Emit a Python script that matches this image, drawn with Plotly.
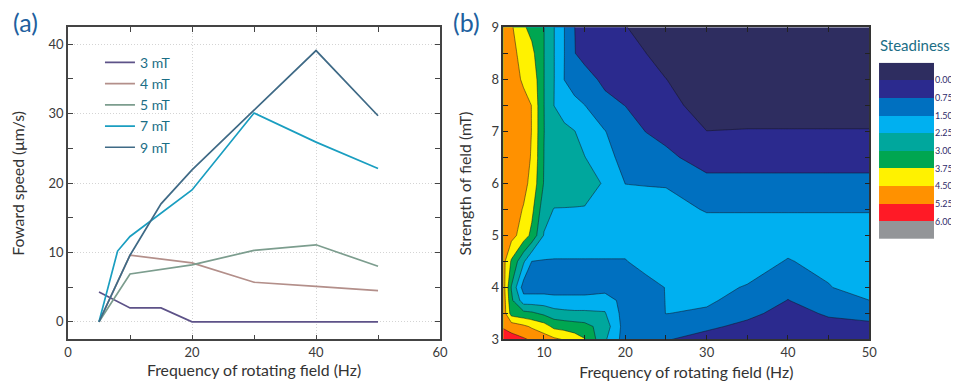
import plotly.graph_objects as go

# ---------------- Panel (a) data ----------------
freq_3mT = [5, 10, 15, 20, 30, 40, 50]
speed_3mT = [4.3, 2.0, 2.0, 0.0, 0.0, 0.0, 0.0]
freq_4mT = [5, 10, 20, 30, 40, 50]
speed_4mT = [0.0, 9.6, 8.5, 5.7, 5.1, 4.5]
freq_5mT = [5, 10, 20, 30, 40, 50]
speed_5mT = [0.0, 6.9, 8.2, 10.3, 11.1, 8.0]
freq_7mT = [5, 8, 10, 15, 20, 30, 40, 50]
speed_7mT = [0.0, 10.2, 12.3, 15.6, 19.0, 30.1, 25.9, 22.1]
freq_9mT = [5, 10, 15, 20, 30, 40, 50]
speed_9mT = [0.0, 9.6, 17.0, 21.9, 30.5, 39.1, 29.7]
series_names = ["3 mT", "4 mT", "5 mT", "7 mT", "9 mT"]
series_colors = ["#5d5288", "#b38f8a", "#7c9d8e", "#1a9ec0", "#3f6a86"]

# ---------------- Panel (b) data ----------------
grid_freq = [5, 6, 7.5, 8.5, 10, 11.25, 12.5, 13.75, 15, 17.5, 20, 22.5, 25, 30, 35, 40, 45, 50]
grid_field = [3, 3.25, 3.5, 3.75, 4, 4.5, 5, 5.5, 6, 6.5, 7, 7.5, 8, 8.5, 9]
steadiness = [
    [6.5, 6.3, 6.1, 5.9, 5.6, 5.4, 5.2, 4.9, 4.55, 3.1, 1.9, 1.7, 1.55, 1.2, 1.0, 0.9, 1.0, 1.0],
    [5.9, 5.7, 5.4, 5.15, 4.85, 4.3, 4.2, 4.1, 4.0, 3.4, 1.9, 1.85, 1.7, 1.65, 1.3, 1.0, 1.25, 1.3],
    [5.7, 4.2, 4.0, 3.9, 3.6, 3.3, 3.2, 3.15, 3.15, 3.05, 1.9, 1.9, 2.26, 2.15, 1.7, 1.2, 1.6, 1.8],
    [5.7, 3.9, 2.6, 2.6, 2.6, 2.5, 2.5, 2.5, 2.5, 2.7, 1.9, 1.9, 2.27, 2.35, 2.0, 1.48, 1.95, 2.24],
    [5.6, 3.7, 1.9, 1.9, 1.9, 1.9, 1.9, 1.9, 1.9, 1.9, 1.9, 1.9, 2.28, 2.45, 2.2, 1.7, 2.2, 2.7],
    [5.5, 4.4, 3.1, 2.24, 2.2, 2.2, 2.2, 2.2, 2.2, 2.2, 2.2, 2.6, 2.6, 2.5, 2.6, 2.2, 2.5, 2.55],
    [5.7, 5.5, 4.9, 4.3, 2.95, 2.7, 2.7, 2.7, 2.7, 2.7, 2.7, 2.7, 2.7, 2.6, 2.6, 2.6, 2.6, 2.6],
    [5.75, 5.6, 5.2, 4.7, 3.3, 2.97, 2.97, 2.97, 2.97, 2.9, 2.6, 2.5, 2.5, 2.2, 2.2, 2.2, 2.2, 2.2],
    [5.8, 5.7, 5.45, 5.05, 3.7, 3.5, 3.4, 3.3, 3.2, 2.95, 2.24, 2.22, 2.2, 1.7, 1.7, 1.7, 1.7, 1.7],
    [5.8, 5.75, 5.5, 5.2, 3.74, 3.55, 3.4, 3.2, 3.02, 2.5, 2.0, 1.85, 1.65, 1.2, 1.2, 1.2, 1.2, 1.2],
    [5.8, 5.75, 5.5, 5.24, 3.76, 3.4, 3.2, 3.02, 2.7, 2.27, 1.85, 1.49, 1.3, 0.76, 0.8, 0.8, 0.8, 0.8],
    [5.8, 5.7, 5.45, 5.24, 3.76, 2.99, 2.6, 2.4, 2.26, 1.7, 1.49, 1.2, 1.1, 0.3, 0.3, 0.3, 0.3, 0.3],
    [5.75, 5.55, 5.15, 5.05, 3.76, 3.01, 2.24, 2.0, 1.75, 1.35, 1.1, 0.95, 0.76, 0.3, 0.3, 0.3, 0.3, 0.3],
    [5.7, 5.45, 5.0, 4.7, 3.76, 3.01, 2.26, 1.52, 1.3, 1.1, 0.95, 0.76, 0.45, 0.3, 0.3, 0.3, 0.3, 0.3],
    [5.6, 5.35, 4.6, 4.27, 3.76, 3.01, 2.26, 1.51, 1.2, 1.0, 0.78, 0.5, 0.3, 0.3, 0.3, 0.3, 0.3, 0.3],
]
level_labels = ["0.000", "0.750", "1.500", "2.250", "3.000", "3.750", "4.500", "5.250", "6.000"]
band_colors = ["#2e2d60", "#2b2a8e", "#0070c0", "#00b0f0", "#00a79d",
               "#00a651", "#fff200", "#ff9100", "#ff1a26", "#939598"]

FONT = "Lato"
TICKC = "#3a3a3a"

fig = go.Figure()

xs = [freq_3mT, freq_4mT, freq_5mT, freq_7mT, freq_9mT]
ys = [speed_3mT, speed_4mT, speed_5mT, speed_7mT, speed_9mT]
for name, col, xv, yv in zip(series_names, series_colors, xs, ys):
    fig.add_trace(go.Scatter(x=xv, y=yv, mode="lines", name=name,
                             line=dict(color=col, width=1.7),
                             xaxis="x", yaxis="y"))

cscale = [[i / 9, c] for i, c in enumerate(band_colors)]
fig.add_trace(go.Contour(
    x=grid_freq, y=grid_field, z=steadiness,
    xaxis="x2", yaxis="y2",
    colorscale=cscale, showscale=False, autocontour=False,
    contours=dict(start=0.75, end=6.75, size=0.75, coloring="fill"),
    line=dict(width=0.6, color="rgba(20,20,30,0.85)", smoothing=0),
    showlegend=False, hoverinfo="skip"))

# colour key (legend of the contour bands)
fig.add_trace(go.Heatmap(
    z=[[i] for i in range(10)], x=[0], y=list(range(10)),
    xaxis="x3", yaxis="y3", colorscale=cscale, zmin=0, zmax=9,
    showscale=False, showlegend=False, hoverinfo="skip"))

axis_common = dict(showline=True, linecolor="#444", linewidth=1.5, mirror="ticks",
                   ticks="inside", ticklen=5, tickcolor="#444", tickwidth=1.2,
                   zeroline=False, automargin=False,
                   tickfont=dict(family=FONT, size=13, color=TICKC))
dark_axis = {**axis_common, "linecolor": "#333", "tickcolor": "#222"}
TITLE_FONT = dict(family=FONT, size=15.8, color="#333")

# the page body adds an 8 px offset, so the figure is 951x377 and fills the 959x385 window
fig.update_layout(
    width=951, height=377,
    margin=dict(l=0, r=0, t=0, b=0),
    paper_bgcolor="white", plot_bgcolor="white",
    font=dict(family=FONT, color=TICKC),
    showlegend=True,
    legend=dict(x=0.0967, y=0.897, xanchor="left", yanchor="top",
                bgcolor="rgba(0,0,0,0)", font=dict(family=FONT, size=14, color="#1b6e86"),
                tracegroupgap=0, itemwidth=30),
    xaxis=dict(domain=[0.0631, 0.4543], anchor="y", range=[0, 60], tickvals=[0, 20, 40, 60],
               minor=dict(dtick=10, ticks="inside", ticklen=5, tickcolor="#444"),
               showgrid=True, gridcolor="#d4d4d4", griddash="1px,2px", gridwidth=1,
               title=dict(text="Frequency of rotating field (Hz)", standoff=6, font=TITLE_FONT),
               **axis_common),
    yaxis=dict(domain=[0.1207, 0.9488], anchor="x", range=[-2.55, 42.45],
               tickvals=[0, 10, 20, 30, 40],
               minor=dict(dtick=5, ticks="inside", ticklen=5, tickcolor="#444"),
               showgrid=True, gridcolor="#d4d4d4", griddash="1px,2px", gridwidth=1,
               title=dict(text="Foward speed (μm/s)", standoff=26, font=TITLE_FONT),
               **axis_common),
    xaxis2=dict(domain=[0.5208, 0.9057], anchor="y2", range=[5, 50],
                tickvals=[10, 20, 30, 40, 50],
                minor=dict(tickvals=[15, 25, 35, 45], ticks="inside", ticklen=5, tickcolor="#222"),
                showgrid=False,
                title=dict(text="Frequency of rotating field (Hz)", standoff=8, font=TITLE_FONT),
                **dark_axis),
    yaxis2=dict(domain=[0.1207, 0.9488], anchor="x2", range=[3, 9], dtick=1,
                minor=dict(dtick=0.5, ticks="inside", ticklen=5, tickcolor="#222"),
                showgrid=False,
                title=dict(text="Strength of field (mT)", standoff=16, font=TITLE_FONT),
                **dark_axis),
    xaxis3=dict(domain=[0.9159, 0.9737], anchor="y3", visible=False, range=[-0.5, 0.5]),
    yaxis3=dict(domain=[0.3873, 0.8549], anchor="x3", range=[9.5, -0.5], side="right",
                tickvals=[i + 0.5 for i in range(9)], ticktext=level_labels,
                showgrid=False, zeroline=False, showline=False, ticks="", automargin=False,
                tickfont=dict(family=FONT, size=9, color="#2e2a6b")),
    annotations=[
        dict(text="(a)", x=0.0179, y=0.963, xref="paper", yref="paper", showarrow=False,
             xanchor="center", yanchor="middle", font=dict(family=FONT, size=25, color="#215f9e")),
        dict(text="(b)", x=0.4826, y=0.963, xref="paper", yref="paper", showarrow=False,
             xanchor="center", yanchor="middle", font=dict(family=FONT, size=25, color="#215f9e")),
        dict(text="Steadiness", x=0.9148, y=0.902, xref="paper", yref="paper", showarrow=False,
             xanchor="left", yanchor="middle", font=dict(family=FONT, size=15, color="#1b6e86")),
    ],
)

fig.write_html("out.html")
